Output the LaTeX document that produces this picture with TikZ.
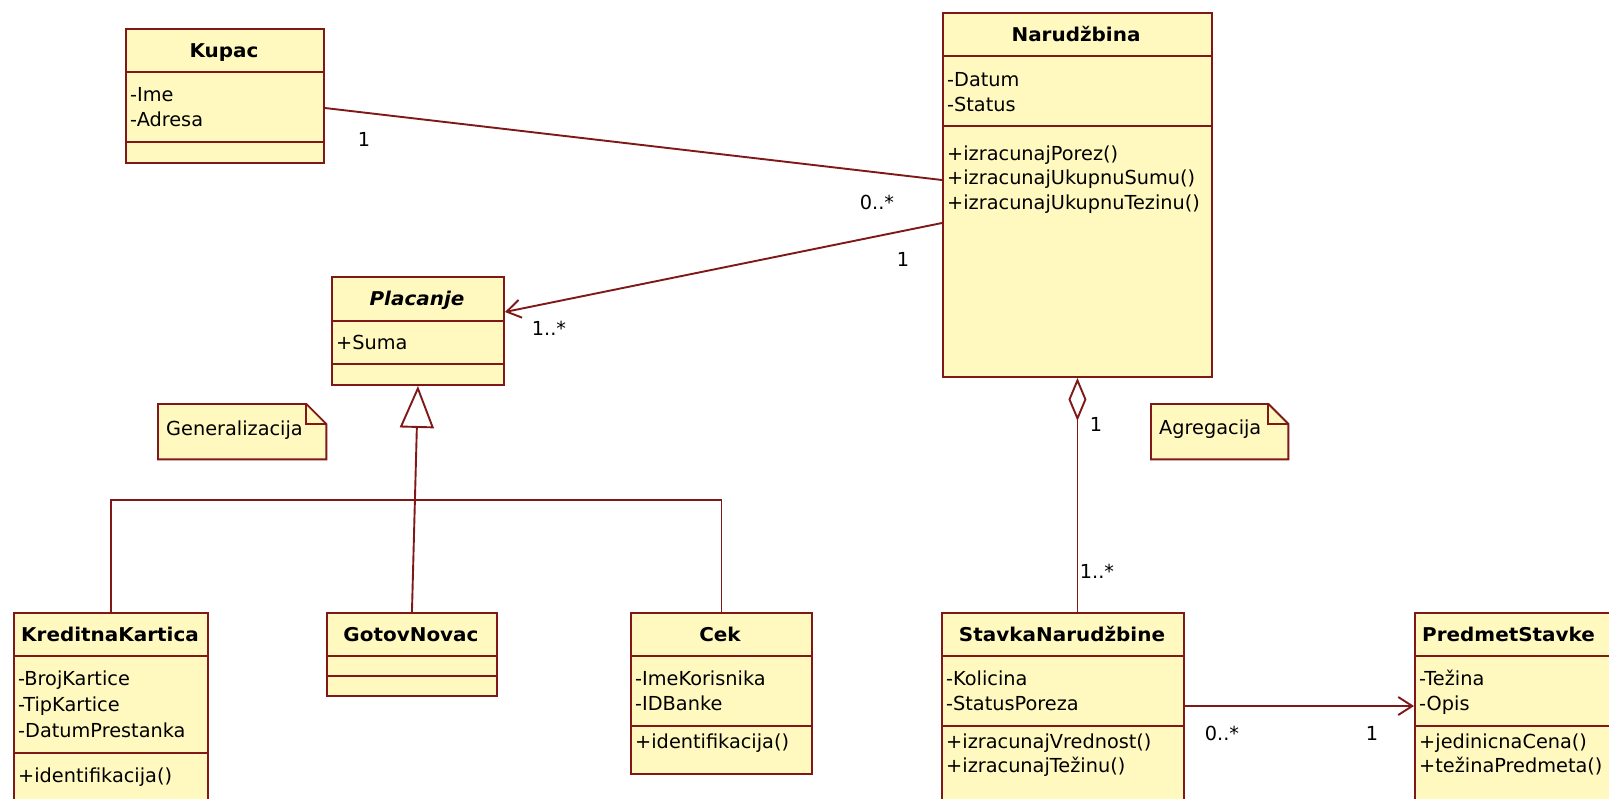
\documentclass[tikz,border=0pt]{standalone}
\usepackage{fontspec}
\setmainfont{DejaVu Sans}
\newfontfamily\hdrfont[FakeStretch=1.05]{DejaVu Sans}
\usetikzlibrary{arrows.meta,calc}
\definecolor{umlline}{RGB}{128,24,24}
\definecolor{umlfill}{RGB}{255,249,192}
\begin{document}
\begin{tikzpicture}[x=1pt,y=-1pt,
 box/.style={draw=umlline, fill=umlfill, line width=1.9pt, inner sep=0pt, anchor=north west, rectangle},
 sep/.style={draw=umlline, line width=1.9pt},
 conn/.style={draw=umlline, line width=1.9pt},
 txt/.style={font=\fontsize{19.3}{22}\selectfont, inner sep=0pt, anchor=base west, text=black},
 hdr/.style={font=\fontsize{19}{22}\hdrfont\bfseries, inner sep=0pt, anchor=base, text=black},
 lbl/.style={font=\fontsize{19.3}{22}\selectfont, inner sep=0pt, anchor=center, text=black},
 notebox/.style={draw=umlline, fill=umlfill, line width=1.9pt},
 barb/.style={-{Straight Barb[length=14pt,width=18pt]}},
]
\clip (0,0) rectangle (1609,798);
\fill[white] (0,0) rectangle (1609,798);

% ---------- classes ----------
\node[box, minimum width=198pt, minimum height=134pt] (kupac) at (125,28) {};
\draw[sep] (kupac.west |- 0,72) -- (kupac.east |- 0,72);
\draw[sep] (kupac.west |- 0,142) -- (kupac.east |- 0,142);
\node[hdr] (kupacH) at (224,57) {Kupac};
\node[txt] (kupacA1) at (130,101) {-Ime};
\node[txt] (kupacA2) at (130,126) {-Adresa};

\node[box, minimum width=269pt, minimum height=364pt] (narud) at (942,12) {};
\draw[sep] (narud.west |- 0,56) -- (narud.east |- 0,56);
\draw[sep] (narud.west |- 0,126) -- (narud.east |- 0,126);
\node[hdr] (narudH) at (1076,41) {Narudžbina};
\node[txt] (narudA1) at (947,86) {-Datum};
\node[txt] (narudA2) at (947,111) {-Status};
\node[txt] (narudM1) at (947,160) {+izracunajPorez()};
\node[txt] (narudM2) at (947,184) {+izracunajUkupnuSumu()};
\node[txt] (narudM3) at (947,209) {+izracunajUkupnuTezinu()};

\node[box, minimum width=172pt, minimum height=108pt] (plac) at (331,276) {};
\draw[sep] (plac.west |- 0,321) -- (plac.east |- 0,321);
\draw[sep] (plac.west |- 0,364) -- (plac.east |- 0,364);
\node[hdr, font=\fontsize{19}{22}\hdrfont\bfseries\itshape] (placH) at (417,305) {Placanje};
\node[txt] (placA1) at (336,349) {+Suma};

\node[box, minimum width=194pt, minimum height=200pt] (kred) at (13,612) {};
\draw[sep] (kred.west |- 0,656) -- (kred.east |- 0,656);
\draw[sep] (kred.west |- 0,753) -- (kred.east |- 0,753);
\node[hdr] (kredH) at (110,641) {KreditnaKartica};
\node[txt] (kredA1) at (18,685) {-BrojKartice};
\node[txt] (kredA2) at (18,711) {-TipKartice};
\node[txt] (kredA3) at (18,737) {-DatumPrestanka};
\node[txt] (kredM1) at (18,782) {+identifikacija()};

\node[box, minimum width=170pt, minimum height=83pt] (gotov) at (326,612) {};
\draw[sep] (gotov.west |- 0,656) -- (gotov.east |- 0,656);
\draw[sep] (gotov.west |- 0,676) -- (gotov.east |- 0,676);
\node[hdr] (gotovH) at (411,641) {GotovNovac};

\node[box, minimum width=181pt, minimum height=161pt] (cek) at (630,612) {};
\draw[sep] (cek.west |- 0,656) -- (cek.east |- 0,656);
\draw[sep] (cek.west |- 0,726) -- (cek.east |- 0,726);
\node[hdr] (cekH) at (720,641) {Cek};
\node[txt] (cekA1) at (635,685) {-ImeKorisnika};
\node[txt] (cekA2) at (635,710) {-IDBanke};
\node[txt] (cekM1) at (635,748) {+identifikacija()};

\node[box, minimum width=242pt, minimum height=200pt] (stavka) at (941,612) {};
\draw[sep] (stavka.west |- 0,656) -- (stavka.east |- 0,656);
\draw[sep] (stavka.west |- 0,726) -- (stavka.east |- 0,726);
\node[hdr] (stavkaH) at (1062,641) {StavkaNarudžbine};
\node[txt] (stavkaA1) at (946,685) {-Kolicina};
\node[txt] (stavkaA2) at (946,710) {-StatusPoreza};
\node[txt] (stavkaM1) at (946,748) {+izracunajVrednost()};
\node[txt] (stavkaM2) at (946,772) {+izracunajTežinu()};

\node[box, minimum width=204pt, minimum height=200pt] (predmet) at (1414,612) {};
\draw[sep] (predmet.west |- 0,656) -- (predmet.east |- 0,656);
\draw[sep] (predmet.west |- 0,726) -- (predmet.east |- 0,726);
\node[hdr, anchor=base west] (predmetH) at (1422,641) {PredmetStavke};
\node[txt] (predmetA1) at (1419,685) {-Težina};
\node[txt] (predmetA2) at (1419,710) {-Opis};
\node[txt] (predmetM1) at (1419,748) {+jedinicnaCena()};
\node[txt] (predmetM2) at (1419,772) {+težinaPredmeta()};

% ---------- notes ----------
\node[inner sep=0pt, minimum width=168pt, minimum height=55pt, anchor=north west] (gen) at (158,404) {};
\draw[notebox] (gen.north west) -- ($(gen.north east)+(-20,0)$) -- ($(gen.north east)+(0,20)$) -- (gen.south east) -- (gen.south west) -- cycle;
\draw[sep] ($(gen.north east)+(-20,0)$) -- ($(gen.north east)+(-20,20)$) -- ($(gen.north east)+(0,20)$);
\node[txt] (genT) at (166,435) {Generalizacija};

\node[inner sep=0pt, minimum width=137pt, minimum height=55pt, anchor=north west] (agr) at (1151,404) {};
\draw[notebox] (agr.north west) -- ($(agr.north east)+(-20,0)$) -- ($(agr.north east)+(0,20)$) -- (agr.south east) -- (agr.south west) -- cycle;
\draw[sep] ($(agr.north east)+(-20,0)$) -- ($(agr.north east)+(-20,20)$) -- ($(agr.north east)+(0,20)$);
\node[txt] (agrT) at (1159,434) {Agregacija};

% ---------- connectors ----------
\draw[conn] ($(kupac.north east)+(0,80)$) -- ($(narud.north west)+(0,168)$);
\draw[conn, barb] ($(narud.north west)+(0,211)$) -- ($(plac.north east)+(0,36)$);
\draw[conn, -{Triangle[open, length=42pt, width=34pt, fill=white]}] (gotov.north) -- (plac.south);
\draw[conn] (kred.north) -- ++(0,-112) -| (cek.north);
\draw[conn, {Diamond[open, length=43pt, width=18pt, fill=white]}-] (narud.south) -- (narud.south |- stavka.north);
\draw[conn, barb] ($(stavka.north east)+(0,94)$) -- ($(predmet.north west)+(0,94)$);

% ---------- multiplicities ----------
\node[lbl] (m1) at (364,139) {1};
\node[lbl] (m2) at (877,202) {0..*};
\node[lbl] (m3) at (903,259) {1};
\node[lbl] (m4) at (549,328) {1..*};
\node[lbl] (m5) at (1096,424) {1};
\node[lbl] (m6) at (1097,571) {1..*};
\node[lbl] (m7) at (1222,733) {0..*};
\node[lbl] (m8) at (1372,733) {1};
\end{tikzpicture}
\end{document}
